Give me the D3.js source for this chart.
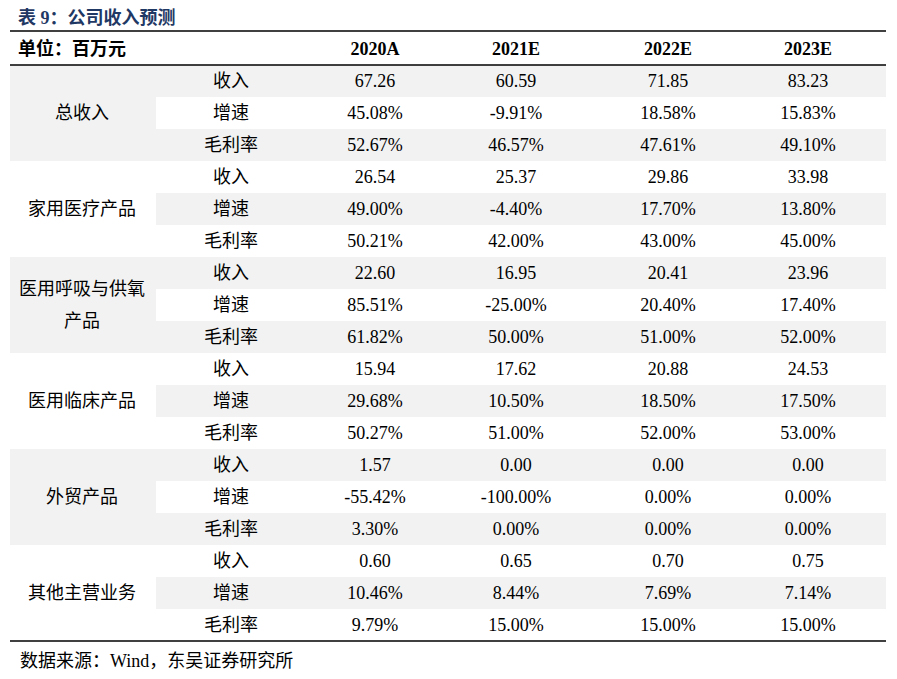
<!DOCTYPE html>
<html>
<head>
<meta charset="utf-8">
<script src="https://cdn.jsdelivr.net/npm/d3@7"></script>
<style>
  body { margin: 0; background: #fff; }
  text { font-family: "Liberation Serif", "Noto Sans CJK SC", serif; }
</style>
</head>
<body>
<section></section>
<script>
const years = ['2020A', '2021E', '2022E', '2023E'];
const groups = ['总收入', '家用医疗产品', '医用呼吸与供氧\n产品', '医用临床产品', '外贸产品', '其他主营业务'];
const metrics = ['收入', '增速', '毛利率'];

const total = [['67.26', '60.59', '71.85', '83.23'], ['45.08%', '-9.91%', '18.58%', '15.83%'], ['52.67%', '46.57%', '47.61%', '49.10%']];
const home = [['26.54', '25.37', '29.86', '33.98'], ['49.00%', '-4.40%', '17.70%', '13.80%'], ['50.21%', '42.00%', '43.00%', '45.00%']];
const oxygen = [['22.60', '16.95', '20.41', '23.96'], ['85.51%', '-25.00%', '20.40%', '17.40%'], ['61.82%', '50.00%', '51.00%', '52.00%']];
const clinic = [['15.94', '17.62', '20.88', '24.53'], ['29.68%', '10.50%', '18.50%', '17.50%'], ['50.27%', '51.00%', '52.00%', '53.00%']];
const trade = [['1.57', '0.00', '0.00', '0.00'], ['-55.42%', '-100.00%', '0.00%', '0.00%'], ['3.30%', '0.00%', '0.00%', '0.00%']];
const other = [['0.60', '0.65', '0.70', '0.75'], ['10.46%', '8.44%', '7.69%', '7.14%'], ['9.79%', '15.00%', '15.00%', '15.00%']];
const groupValues = [total, home, oxygen, clinic, trade, other];

const W = 897, H = 679;
const left = 10, right = 886;
const gray = '#f2f2f2';
const fs = 18;

const svg = d3.select('section')
  .append('svg')
  .attr('width', W)
  .attr('height', H);

// rows
const rows = [];
groups.forEach((g, gi) => metrics.forEach((m, mi) => {
  rows.push({ group: gi, metric: m, values: groupValues[gi][mi] });
}));

const yscale = d3.scaleBand().domain(d3.range(rows.length)).range([65, 641]);
const colEdges = [left, 156, 305, 445, 590, 735, right];
const colCenter = [82, 231, 375, 516, 668, 808];

// gray backgrounds for data rows
svg.selectAll('.rowbg')
  .data(rows)
  .enter()
  .append('rect')
  .attr('class', 'rowbg')
  .attr('x', colEdges[1])
  .attr('y', (d, i) => yscale(i))
  .attr('width', right - colEdges[1])
  .attr('height', yscale.bandwidth())
  .attr('fill', (d, i) => i % 2 === 0 ? gray : '#fff');

// gray backgrounds for group column
svg.selectAll('.groupbg')
  .data(groups)
  .enter()
  .append('rect')
  .attr('class', 'groupbg')
  .attr('x', left)
  .attr('y', (d, i) => yscale(i * 3))
  .attr('width', colEdges[1] - left)
  .attr('height', yscale.bandwidth() * 3)
  .attr('fill', (d, i) => i % 2 === 0 ? gray : '#fff');

// title
svg.append('text')
  .attr('x', 18)
  .attr('y', 24)
  .attr('font-size', fs)
  .attr('font-weight', 'bold')
  .attr('fill', '#1f3864')
  .text('表 9：公司收入预测');

// header
svg.append('text')
  .attr('x', 18)
  .attr('y', 55)
  .attr('font-size', fs)
  .attr('font-weight', 'bold')
  .text('单位：百万元');

svg.selectAll('.year')
  .data(years)
  .enter()
  .append('text')
  .attr('class', 'year')
  .attr('x', (d, i) => colCenter[i + 2])
  .attr('y', 55)
  .attr('text-anchor', 'middle')
  .attr('font-size', fs)
  .attr('font-weight', 'bold')
  .text(d => d);

// rule lines
[31, 65, 641].forEach(y => {
  svg.append('line')
    .attr('x1', left).attr('x2', right)
    .attr('y1', y).attr('y2', y)
    .attr('stroke', '#000')
    .attr('stroke-width', 1.3);
});

// group labels
groups.forEach((g, gi) => {
  const lines = g.split('\n');
  const cy = yscale(gi * 3) + yscale.bandwidth() * 1.5;
  lines.forEach((ln, li) => {
    svg.append('text')
      .attr('x', colCenter[0])
      .attr('y', cy + (li - (lines.length - 1) / 2) * 32 + 6)
      .attr('text-anchor', 'middle')
      .attr('font-size', fs)
      .text(ln);
  });
});

// metric labels and values
const rowG = svg.selectAll('.row')
  .data(rows)
  .enter()
  .append('g')
  .attr('class', 'row')
  .attr('transform', (d, i) => `translate(0, ${yscale(i) + yscale.bandwidth() / 2 + 6})`);

rowG.append('text')
  .attr('x', colCenter[1])
  .attr('text-anchor', 'middle')
  .attr('font-size', fs)
  .text(d => d.metric);

rowG.selectAll('.val')
  .data(d => d.values)
  .enter()
  .append('text')
  .attr('class', 'val')
  .attr('x', (d, i) => colCenter[i + 2])
  .attr('text-anchor', 'middle')
  .attr('font-size', fs)
  .text(d => d);

// source
svg.append('text')
  .attr('x', 20)
  .attr('y', 667)
  .attr('font-size', fs)
  .text('数据来源：Wind，东吴证券研究所');
</script>
</body>
</html>
